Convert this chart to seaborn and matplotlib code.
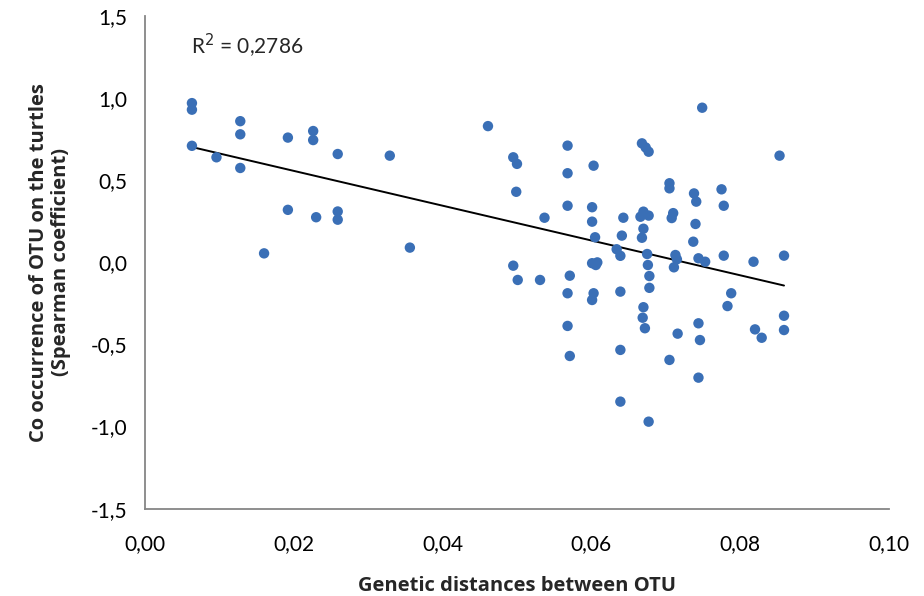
import numpy as np
import pandas as pd
import matplotlib
matplotlib.use('Agg')
import matplotlib.pyplot as plt
from matplotlib.ticker import FuncFormatter
import seaborn as sns

# genetic distance between OTU pairs (x) and Spearman co-occurrence (y)
genetic_dist = [
    0.0063, 0.0063, 0.0063, 0.0096, 0.0128, 0.0128, 0.0128, 0.0160, 0.0192, 0.0192,
    0.0226, 0.0226, 0.0230, 0.0259, 0.0259, 0.0259, 0.0329, 0.0356, 0.0461,
    0.0495, 0.0500, 0.0499, 0.0495, 0.0501, 0.0531, 0.0537,
    0.0568, 0.0568, 0.0568, 0.0571, 0.0568, 0.0568, 0.0571,
    0.0603, 0.0601, 0.0601, 0.0605, 0.0601, 0.0606, 0.0608, 0.0603, 0.0601,
    0.0643, 0.0641, 0.0634, 0.0639, 0.0639, 0.0639, 0.0639,
    0.0668, 0.0673, 0.0677, 0.0670, 0.0666, 0.0677, 0.0670, 0.0668, 0.0675, 0.0676,
    0.0678, 0.0678, 0.0670, 0.0669, 0.0672, 0.0677,
    0.0705, 0.0705, 0.0710, 0.0708, 0.0713, 0.0715, 0.0711, 0.0716, 0.0705,
    0.0738, 0.0741, 0.0740, 0.0737, 0.0749, 0.0744, 0.0753, 0.0744, 0.0746, 0.0744,
    0.0775, 0.0778, 0.0778, 0.0788, 0.0783,
    0.0818, 0.0820, 0.0829, 0.0853, 0.0859, 0.0859, 0.0859,
]
spearman = [
    0.97, 0.93, 0.71, 0.64, 0.86, 0.78, 0.575, 0.055, 0.76, 0.32,
    0.80, 0.745, 0.275, 0.66, 0.31, 0.26, 0.65, 0.09, 0.83,
    0.64, 0.60, 0.43, -0.02, -0.107, -0.107, 0.272,
    0.711, 0.543, 0.345, -0.081, -0.188, -0.387, -0.57,
    0.589, 0.336, 0.248, 0.153, -0.005, -0.016, 0.0, -0.188, -0.229,
    0.272, 0.163, 0.08, 0.04, -0.178, -0.533, -0.848,
    0.725, 0.70, 0.674, 0.309, 0.278, 0.285, 0.205, 0.150, 0.051, -0.016,
    -0.083, -0.155, -0.273, -0.337, -0.401, -0.97,
    0.482, 0.451, 0.30, 0.27, 0.045, 0.019, -0.03, -0.434, -0.594,
    0.42, 0.37, 0.234, 0.126, 0.942, 0.025, 0.004, -0.371, -0.473, -0.702,
    0.445, 0.345, 0.041, -0.188, -0.266,
    0.004, -0.408, -0.459, 0.65, 0.041, -0.325, -0.412,
]
r2_label = 'R$^2$ = 0,2786'
x_ticks = [0.00, 0.02, 0.04, 0.06, 0.08, 0.10]
y_ticks = [-1.5, -1.0, -0.5, 0.0, 0.5, 1.0, 1.5]

df = pd.DataFrame({'dist': genetic_dist, 'rho': spearman})

sns.set_style('white')
plt.rcParams['font.family'] = ['Lato', 'DejaVu Sans']

fig = plt.figure(figsize=(9.24, 5.96), dpi=100)
ax = fig.add_axes([0.157, 0.1465, 0.805, 0.8265])

sns.regplot(data=df, x='dist', y='rho', ax=ax, ci=None, truncate=True,
            scatter_kws=dict(s=56, color='#3A6FB6', edgecolor='none', alpha=1, zorder=3),
            line_kws=dict(color='black', lw=1.4, zorder=2))

ax.set_xlim(0, 0.10)
ax.set_ylim(-1.5, 1.5)
ax.set_xticks(x_ticks)
ax.set_yticks(y_ticks)
ax.xaxis.set_major_formatter(FuncFormatter(lambda v, p: f'{v:.2f}'.replace('.', ',')))
ax.yaxis.set_major_formatter(FuncFormatter(lambda v, p: f'{v:.1f}'.replace('.', ',')))

sns.despine(ax=ax)
for side in ['left', 'bottom']:
    ax.spines[side].set_color('#868686')
    ax.spines[side].set_linewidth(1.3)
ax.tick_params(axis='both', direction='out', length=5, width=1.3, color='#868686',
               labelsize=15, labelcolor='black')
ax.tick_params(axis='x', pad=13)
ax.tick_params(axis='y', pad=8)

lab_font = dict(family=['Open Sans', 'DejaVu Sans'], fontsize=14.5, fontweight='bold')
ax.set_xlabel('Genetic distances between OTU', labelpad=16, **lab_font)
ax.set_ylabel('Co occurrence of OTU on the turtles\n(Spearman coefficient)',
              labelpad=14, linespacing=1.1, **lab_font)

ax.text(0.0062, 1.32, r2_label, fontsize=15, ha='left', va='center')

fig.savefig('out.png', dpi=100)
